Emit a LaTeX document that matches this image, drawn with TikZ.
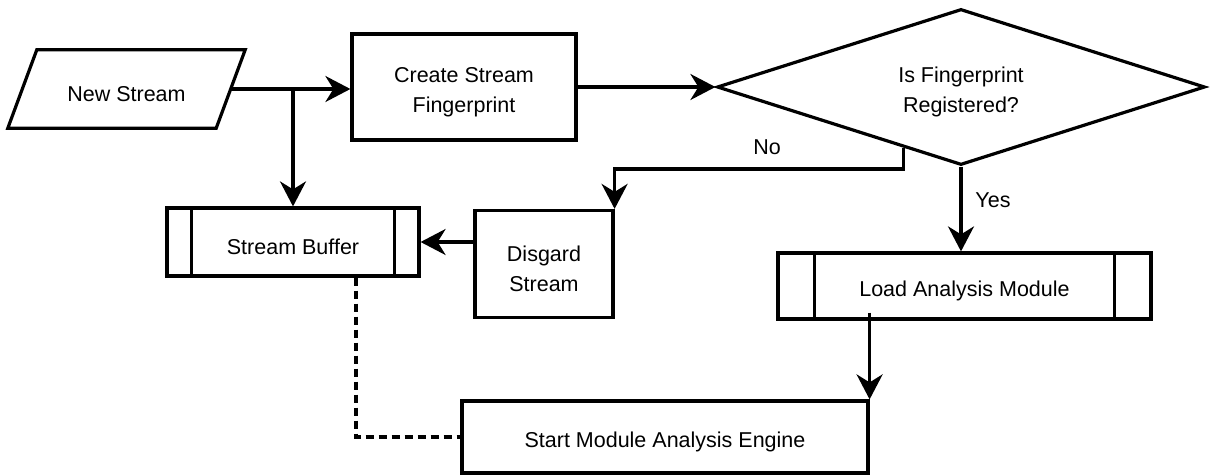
\documentclass[tikz,border=0pt]{standalone}
\usepackage{fontspec}
\setmainfont{Liberation Sans}
\usetikzlibrary{shapes.geometric,arrows.meta,calc}

\tikzset{
  base/.style={draw, line width=3.2pt, inner sep=0pt},
  procbox/.style={base, rectangle},
  decision/.style={base, diamond},
  subproc/.style={procbox},
  label text/.style={align=center, inner sep=0pt,
    font=\fontsize{21.5}{30}\selectfont},
  arr/.style={line width=3.2pt, -{Stealth[length=25pt,width=26pt,inset=8pt]}},
  link/.style={line width=3.2pt},
  dotlink/.style={line width=3.2pt, dash pattern=on 8pt off 5pt},
  tag/.style={font=\fontsize{21.5}{26}\selectfont, inner sep=0pt}
}

% double side bars of a predefined-process box
\newcommand{\sidebars}[2]{%
  \draw[link] ([xshift=#2]#1.north west) -- ([xshift=#2]#1.south west);
  \draw[link] ([xshift=-#2]#1.north east) -- ([xshift=-#2]#1.south east);}

% text of a shape, set a little below the shape's centre
\newcommand{\boxtext}[3]{%
  \node[label text] (#1) at ([yshift=-5pt]#2.center) {#3};}

\begin{document}
\begin{tikzpicture}[x=1pt, y=-1pt]
  \useasboundingbox (0,0) rectangle (1213,476);

  % input parallelogram
  \node[inner sep=0pt, minimum width=208pt, minimum height=78pt] (ns) at (126.5,89) {};
  \draw[link, line join=miter]
    ([xshift=14.5pt]ns.north west) -- ([xshift=14.5pt]ns.north east)
    -- ([xshift=-14.5pt]ns.south east) -- ([xshift=-14.5pt]ns.south west) -- cycle;
  \boxtext{nst}{ns}{New Stream}

  % process steps
  \node[procbox, minimum width=224pt, minimum height=106pt] (cr) at (464,87) {};
  \boxtext{crt}{cr}{Create Stream\\Fingerprint}
  \node[decision, minimum width=488pt, minimum height=156pt] (dm) at (961,87) {};
  \boxtext{dmt}{dm}{Is Fingerprint\\Registered?}
  \node[procbox, minimum width=138pt, minimum height=107pt] (dg) at (544,264) {};
  \boxtext{dgt}{dg}{Disgard\\Stream}
  \node[subproc, minimum width=252pt, minimum height=68pt] (sb) at (293,242) {};
  \sidebars{sb}{26pt}
  \boxtext{sbt}{sb}{Stream Buffer}
  \node[subproc, minimum width=373pt, minimum height=66pt] (ld) at (964.5,286) {};
  \sidebars{ld}{38pt}
  \boxtext{ldt}{ld}{Load Analysis Module}
  \node[procbox, minimum width=406pt, minimum height=72pt] (st) at (665,437) {};
  \boxtext{stt}{st}{Start Module Analysis Engine}

  % connectors
  \draw[arr] (ns.east) -- (ns.east -| cr.west);
  \draw[arr] (ns.east -| sb.north) -- (sb.north);
  \draw[arr] (cr.east) -- (dm.west);

  \coordinate (nostart) at ($(dm.west)!0.766!(dm.south)$);
  \draw[arr] (nostart) -- ++(0,21) -| (dg.north east);
  \node[tag] (nolbl) at (767,147) {No};

  \draw[arr] (dg.west |- sb.east) -- (sb.east);

  \draw[arr] (dm.south) -- (dm.south |- ld.north);
  \node[tag] (yeslbl) at (993,200) {Yes};

  \coordinate (ldout) at ($(st.north east |- ld.south)+(0,-8)$);
  \draw[arr] (ldout) -- (st.north east);

  \draw[dotlink] ([xshift=63pt]sb.south) |- (st.west);
\end{tikzpicture}
\end{document}
